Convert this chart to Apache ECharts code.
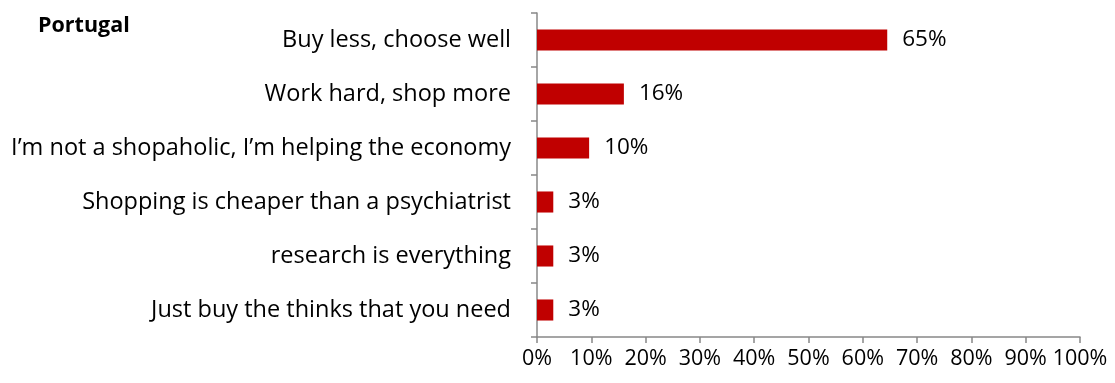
<!DOCTYPE html>
<html><head><meta charset="utf-8">
<script src="https://cdn.jsdelivr.net/npm/echarts@6/dist/echarts.min.js"></script>
<style>html,body{margin:0;padding:0;background:#fff}#c{width:1115px;height:383px}</style>
</head><body><div id="c"></div>
<script>
const categories = ["Buy less, choose well","Work hard, shop more","I\u2019m not a shopaholic, I\u2019m helping the economy","Shopping is cheaper than a psychiatrist","research is everything","Just buy the thinks that you need"];
const values = [64.5, 16, 9.6, 3, 3, 3];
const valueLabels = ["65%","16%","10%","3%","3%","3%"];
const xTicks = [0,10,20,30,40,50,60,70,80,90,100];
const FONT = "Open Sans";
const chart = echarts.init(document.getElementById('c'));
chart.setOption({
  animation:false,
  title:{text:"Portugal",left:33,top:10,textStyle:{fontFamily:FONT,fontWeight:'bold',fontSize:21.5,color:'#000'}},
  grid:{left:537,right:35,top:13,bottom:46,containLabel:false},
  xAxis:{type:'value',min:0,max:100,interval:10,
    axisLine:{show:true,lineStyle:{color:'#888',width:1.5}},
    axisTick:{show:true,length:6,lineStyle:{color:'#888',width:1.5}},
    splitLine:{show:false},
    axisLabel:{margin:11,fontFamily:FONT,fontSize:21.5,color:'#000',formatter:v=>v+'%'}},
  yAxis:{type:'category',inverse:true,data:categories,
    axisLine:{show:true,lineStyle:{color:'#888',width:1.5}},
    axisTick:{show:true,length:6,lineStyle:{color:'#888',width:1.5}},
    axisLabel:{margin:26,fontFamily:FONT,fontSize:23.5,color:'#000'}},
  series:[{type:'bar',data:values,barCategoryGap:'61%',
    itemStyle:{color:'#C00000'},
    label:{show:true,position:'right',distance:15,fontFamily:FONT,fontSize:22.5,color:'#000',
      formatter:p=>valueLabels[p.dataIndex]}}]
});
</script></body></html>
